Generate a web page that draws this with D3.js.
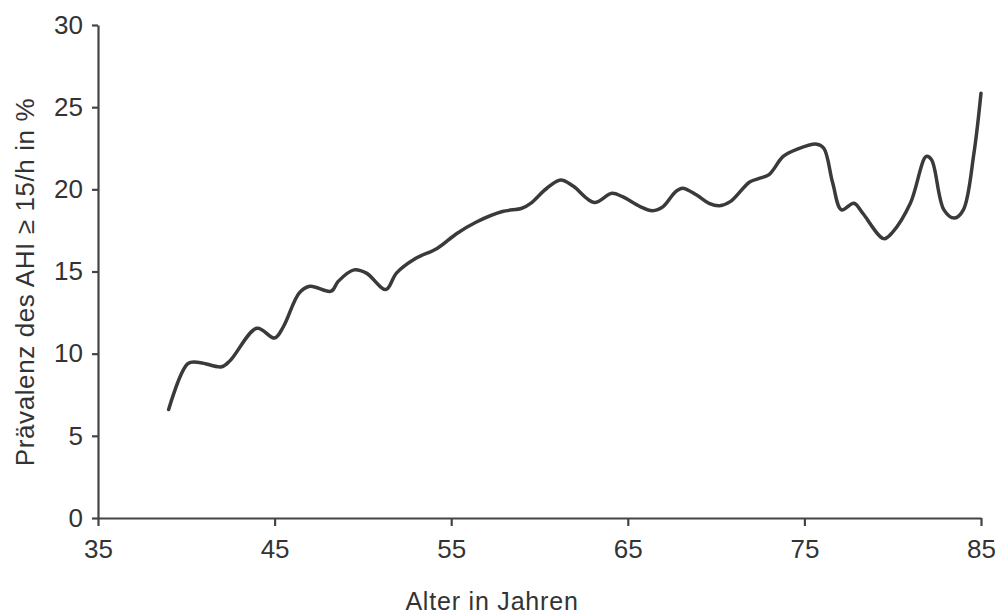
<!DOCTYPE html>
<html>
<head>
<meta charset="utf-8">
<script src="https://cdn.jsdelivr.net/npm/d3@7"></script>
<style>
  body { margin: 0; background: #fff; }
  svg text { font-family: "Liberation Sans", Arial, sans-serif; fill: #333; }
</style>
</head>
<body>
<svg id="chart" width="995" height="615"></svg>
<script>
// ----------------------------------------------------------------------------
// Data: prevalence of AHI >= 15/h by age
// ----------------------------------------------------------------------------
const ages = [39.0, 40.1, 40.8, 42.0, 42.5, 44.0, 45.0, 45.5, 46.4, 47.0, 48.2, 48.6,
  49.5, 50.2, 51.3, 51.9, 53.0, 54.2, 55.3, 56.4, 57.9, 59.0, 59.5, 60.4, 61.2, 61.9,
  63.1, 64.1, 64.7, 65.7, 66.4, 67.0, 67.7, 68.1, 68.9, 69.6, 70.2, 70.8, 71.9, 72.4,
  73.0, 73.8, 74.6, 75.7, 76.1, 76.6, 77.1, 77.8, 78.3, 79.5, 80.0, 81.0, 81.9, 82.2,
  82.9, 83.5, 84.0, 84.6, 85.0];
const prevalence = [6.6, 9.4, 9.45, 9.2, 9.6, 11.55, 10.95, 11.65, 13.7, 14.1, 13.8, 14.4,
  15.1, 14.9, 13.9, 14.9, 15.8, 16.4, 17.3, 18.0, 18.65, 18.85, 19.15, 20.05, 20.57, 20.2,
  19.2, 19.76, 19.55, 18.95, 18.7, 18.95, 19.85, 20.07, 19.65, 19.15, 19.0, 19.25, 20.45, 20.65,
  20.9, 22.0, 22.45, 22.75, 22.5, 20.4, 18.75, 19.15, 18.55, 17.0, 17.4, 19.15, 22.0, 21.8,
  18.75, 18.25, 18.75, 22.2, 25.85];

const xTicks = [35, 45, 55, 65, 75, 85];
const yTicks = [0, 5, 10, 15, 20, 25, 30];

const xLabel = 'Alter in Jahren';
const yLabel = 'Prävalenz des AHI ≥ 15/h in %';

// ----------------------------------------------------------------------------
// Chart
// ----------------------------------------------------------------------------
const svg = d3.select('#chart');
const m = {top: 25, right: 14, bottom: 97, left: 98};
const w = 995 - m.left - m.right;
const h = 615 - m.top - m.bottom;

const g = svg.append('g').attr('transform', `translate(${m.left},${m.top})`);

const xScale = d3.scaleLinear().domain([35, 85]).range([0, w]);
const yScale = d3.scaleLinear().domain([0, 30]).range([h, 0]);

// x axis
const xAxis = g.append('g')
  .attr('transform', `translate(0,${h})`)
  .call(d3.axisBottom(xScale).tickValues(xTicks).tickSize(8).tickSizeOuter(0).tickPadding(14));

// y axis
const yAxis = g.append('g')
  .call(d3.axisLeft(yScale).tickValues(yTicks).tickSize(6).tickSizeOuter(0).tickPadding(9));

[xAxis, yAxis].forEach(a => {
  a.select('.domain').attr('stroke', '#444').attr('stroke-width', 2.2);
  a.selectAll('.tick line').attr('stroke', '#444').attr('stroke-width', 2.2);
  a.selectAll('.tick text').style('font-size', '26px').attr('fill', '#333');
});

// line
const points = ages.map((a, i) => [a, prevalence[i]]);
const valueline = d3.line()
  .x(d => xScale(d[0]))
  .y(d => yScale(d[1]))
  .curve(d3.curveCatmullRom.alpha(0.5));

g.append('path')
  .attr('d', valueline(points))
  .attr('fill', 'none')
  .attr('stroke', '#3a3a3a')
  .attr('stroke-width', 3.5)
  .attr('stroke-linejoin', 'round')
  .attr('stroke-linecap', 'round');

// axis titles
svg.append('text')
  .text(xLabel)
  .attr('x', 492)
  .attr('y', 610)
  .attr('text-anchor', 'middle')
  .style('font-size', '25px')
  .style('letter-spacing', '0.8px');

svg.append('text')
  .text(yLabel)
  .attr('transform', 'translate(34,282) rotate(-90)')
  .attr('text-anchor', 'middle')
  .style('font-size', '26px')
  .style('letter-spacing', '0.6px');
</script>
</body>
</html>
